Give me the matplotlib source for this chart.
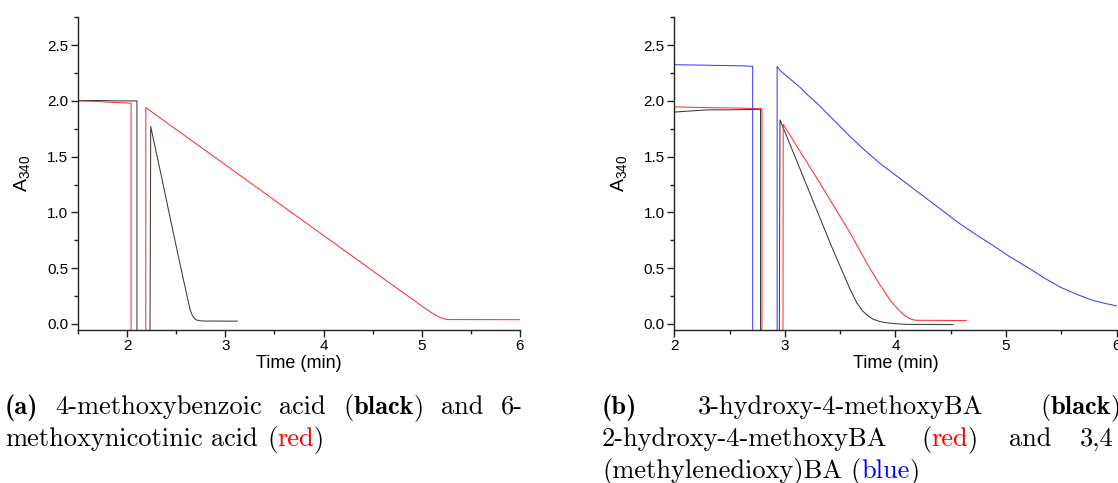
import matplotlib
matplotlib.use('Agg')
import matplotlib.pyplot as plt
from matplotlib.ticker import MultipleLocator, FormatStrFormatter
from matplotlib.transforms import IdentityTransform

# panel (a): 4-methoxybenzoic acid (black), 6-methoxynicotinic acid (red)
t_a_black = [1.5, 1.7, 1.9, 2.10, 2.10, 2.233, 2.24, 2.35, 2.45, 2.55, 2.64, 2.66, 2.68, 2.70, 2.73,
             2.78, 3.12]
a_a_black = [2.003, 2.004, 2.0, 2.0, -0.06, -0.06, 1.77, 1.32, 0.90, 0.49, 0.13, 0.085, 0.055, 0.038,
             0.03, 0.026, 0.025]
t_a_red = [1.5, 1.7, 1.9, 2.04, 2.04, 2.19, 2.19, 5.0, 5.1, 5.17, 5.22, 5.27, 6.0]
a_a_red = [2.0, 1.995, 1.985, 1.98, -0.06, -0.06, 1.94, 0.16, 0.10, 0.065, 0.047, 0.039, 0.038]

# panel (b): 3-hydroxy-4-methoxyBA (black), 2-hydroxy-4-methoxyBA (red), 3,4-(methylenedioxy)BA (blue)
t_b_black = [2.0, 2.15, 2.3, 2.5, 2.78, 2.78, 2.95, 2.956, 3.1, 3.26, 3.42, 3.52, 3.59, 3.65, 3.7,
             3.75, 3.8, 3.85, 3.9, 4.0, 4.1, 4.52]
a_b_black = [1.90, 1.91, 1.92, 1.92, 1.925, -0.06, -0.06, 1.83, 1.48, 1.09, 0.70, 0.47, 0.31, 0.19,
             0.12, 0.072, 0.042, 0.024, 0.013, 0.002, -0.004, -0.006]
t_b_red = [2.0, 2.3, 2.6, 2.793, 2.793, 2.983, 2.985, 3.3, 3.59, 3.75, 3.86, 3.95, 4.02, 4.08, 4.13,
           4.18, 4.64]
a_b_red = [1.946, 1.94, 1.935, 1.93, -0.06, -0.06, 1.79, 1.29, 0.816, 0.53, 0.35, 0.215, 0.135, 0.078,
           0.047, 0.033, 0.03]
t_b_blue = [2.0, 2.3, 2.6, 2.709, 2.709, 2.93, 2.93, 2.96, 3.02, 3.08, 3.14, 3.21, 3.29, 3.44, 3.59,
            3.72, 3.86, 4.02, 4.18, 4.38, 4.58, 4.73, 4.88, 5.03, 5.19, 5.34, 5.49, 5.64, 5.79, 5.9,
            6.0, 6.1]
a_b_blue = [2.325, 2.32, 2.315, 2.31, -0.06, -0.06, 2.31, 2.27, 2.22, 2.17, 2.12, 2.05, 1.98, 1.83,
            1.68, 1.56, 1.44, 1.32, 1.20, 1.05, 0.90, 0.80, 0.705, 0.605, 0.51, 0.415, 0.33, 0.265,
            0.21, 0.183, 0.162, 0.15]

c_black = '#3a3a3a'
c_red = '#ff3030'
c_blue = '#3c3cff'

plt.rcParams['font.family'] = ['Liberation Sans', 'DejaVu Sans']
plt.rcParams['mathtext.fontset'] = 'custom'
plt.rcParams['mathtext.rm'] = 'Liberation Sans'

fig = plt.figure(figsize=(11.18, 4.83), dpi=100)
ax1 = fig.add_axes([0.0698, 0.3178, 0.3953, 0.6464])
ax2 = fig.add_axes([0.6031, 0.3178, 0.3957, 0.6464])


def style(ax, xmin, xmax):
    for s in ['top', 'right']:
        ax.spines[s].set_visible(False)
    for s in ['left', 'bottom']:
        ax.spines[s].set_linewidth(1.0)
        ax.spines[s].set_color('#222222')
    ax.set_xlim(xmin, xmax)
    ax.set_ylim(-0.05, 2.75)
    ax.xaxis.set_major_locator(MultipleLocator(1))
    ax.xaxis.set_minor_locator(MultipleLocator(0.5))
    ax.yaxis.set_major_locator(MultipleLocator(0.5))
    ax.yaxis.set_minor_locator(MultipleLocator(0.25))
    ax.yaxis.set_major_formatter(FormatStrFormatter('%.1f'))
    ax.tick_params(which='major', length=5, width=1, color='#222222', labelsize=11, pad=2)
    ax.tick_params(which='minor', length=3, width=1, color='#222222')
    ax.set_xlabel('Time (min)', fontsize=13, labelpad=1)
    ax.set_ylabel(r'A$_{\mathregular{340}}$', fontsize=14, labelpad=10)


lw = 0.75
ax1.plot(t_a_black, a_a_black, color=c_black, lw=lw)
ax1.plot(t_a_red, a_a_red, color=c_red, lw=lw)
style(ax1, 1.5, 6)

ax2.plot(t_b_black, a_b_black, color=c_black, lw=lw)
ax2.plot(t_b_red, a_b_red, color=c_red, lw=lw)
ax2.plot(t_b_blue, a_b_blue, color=c_blue, lw=lw)
style(ax2, 2, 6)

# captions, set like justified LaTeX text
renderer = fig.canvas.get_renderer()
H = 483
cap_size = 19
colors = {'n': 'black', 'b': 'black', 'r': 'red', 'u': 'blue'}


def caption_line(words, x0, y_top, x1=None, starts=None):
    y = H - y_top
    placed = []
    widths = []
    for word in words:
        parts = []
        w = 0
        for txt, kind in word:
            t = fig.text(0, 0, txt, fontsize=cap_size,
                         family='cmb10' if kind == 'b' else 'cmr10',
                         color=colors[kind], transform=IdentityTransform(),
                         va='baseline', ha='left')
            ww = t.get_window_extent(renderer).width
            parts.append((t, ww))
            w += ww
        placed.append(parts)
        widths.append(w)
    if x1 is None:
        gap = 0.333 * cap_size * 100 / 72
    else:
        gap = (x1 - x0 - sum(widths)) / (len(words) - 1)
    x = x0
    for i, (parts, w) in enumerate(zip(placed, widths)):
        if starts is not None:
            x = starts[i]
        xx = x
        for t, ww in parts:
            t.set_position((xx, y))
            xx += ww
        x += w + gap


def n(s):
    return [(s, 'n')]


caption_line([[('(a)', 'b')], n('4-methoxybenzoic'), n('acid'),
              [('(', 'n'), ('black', 'b'), (')', 'n')], n('and'), n('6-')],
             5, 414, 523)
caption_line([n('methoxynicotinic'), n('acid'), [('(', 'n'), ('red', 'r'), (')', 'n')]],
             5, 446)

caption_line([[('(b)', 'b')], n('3-hydroxy-4-methoxyBA'),
              [('(', 'n'), ('black', 'b'), (')', 'n')]],
             602, 414, starts=[602, 698, 1040])
caption_line([n('2-hydroxy-4-methoxyBA'), [('(', 'n'), ('red', 'r'), (')', 'n')],
              n('and'), n('3,4')],
             602, 446, starts=[602, 921, 1009, 1080])
caption_line([n('(methylenedioxy)BA'), [('(', 'n'), ('blue', 'u'), (')', 'n')]],
             602, 478)

fig.savefig('out.png', dpi=100)
